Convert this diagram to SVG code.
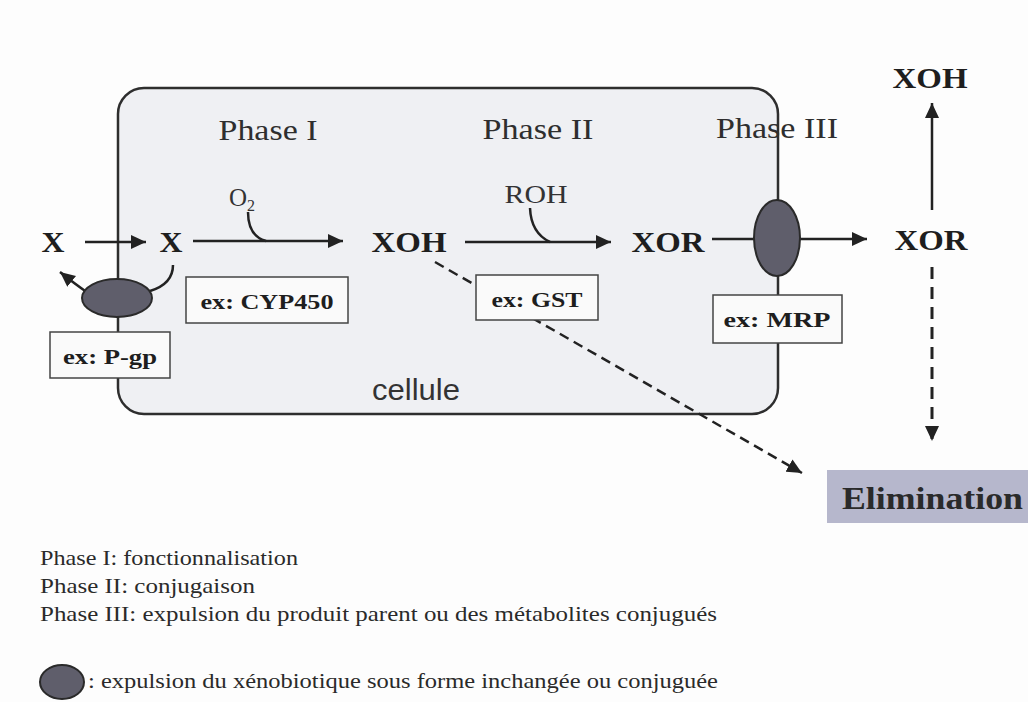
<svg xmlns="http://www.w3.org/2000/svg" width="1028" height="702" viewBox="0 0 1028 702">
  <style>
    .bg { fill: #fdfdfd; }
    .cell { fill: #eff0f3; stroke: #2e2e2e; stroke-width: 2.5; }
    .mol { font-family: "Liberation Serif", "Times New Roman", serif; font-weight: bold; font-size: 30px; fill: #1e1e1e; }
    .phase { font-family: "Liberation Serif", "Times New Roman", serif; font-size: 29px; fill: #2e2e2e; }
    .sub { font-family: "Liberation Serif", "Times New Roman", serif; font-size: 25px; fill: #333; }
    .lbl { font-family: "Liberation Serif", "Times New Roman", serif; font-weight: bold; font-size: 22px; fill: #1e1e1e; }
    .box { fill: #fafafa; stroke: #444; stroke-width: 1.5; }
    .pump { fill: #5f5e6b; stroke: #2a2a2a; stroke-width: 2; }
    .edge { fill: none; stroke: #222; stroke-width: 2.5; }
    .dash { fill: none; stroke: #222; stroke-width: 2.5; stroke-dasharray: 10 6; }
    .vdash { fill: none; stroke: #222; stroke-width: 3; stroke-dasharray: 12 8; }
    .legend { font-family: "Liberation Serif", "Times New Roman", serif; font-size: 22px; fill: #2a2a2a; }
    .sans { font-family: "Liberation Sans", Arial, sans-serif; font-size: 29px; fill: #333; }
    .elim { fill: #b6b7cc; }
    .elimtxt { font-family: "Liberation Serif", "Times New Roman", serif; font-weight: bold; font-size: 31px; fill: #2a2a2a; }
  </style>
  <defs>
    <marker id="arrow" markerUnits="userSpaceOnUse" markerWidth="16" markerHeight="14" refX="15" refY="7" orient="auto">
      <path d="M0,0 L15,7 L0,14 z" fill="#222"/>
    </marker>
  </defs>

  <rect class="bg" x="0" y="0" width="1028" height="702"/>

  <g id="cell">
    <rect class="cell" x="118" y="88" width="660" height="326" rx="26" ry="26"/>
    <text class="sans" x="416" y="400" text-anchor="middle" textLength="88" lengthAdjust="spacingAndGlyphs">cellule</text>
  </g>

  <g id="connectors">
    <line class="edge" x1="85" y1="242" x2="146" y2="242" marker-end="url(#arrow)"/>
    <line class="edge" x1="193" y1="241" x2="343" y2="241" marker-end="url(#arrow)"/>
    <path class="edge" d="M248 212 Q248 236 266 241"/>
    <line class="edge" x1="465" y1="242" x2="611" y2="242" marker-end="url(#arrow)"/>
    <path class="edge" d="M530 208 Q531 233 550 242"/>
    <line class="edge" x1="712" y1="239" x2="867" y2="239" marker-end="url(#arrow)"/>
    <path class="edge" d="M173 265 Q173 284 150 291"/>
    <path class="edge" d="M88 293 Q75 284 60 272" marker-end="url(#arrow)"/>
    <line class="edge" x1="932" y1="210" x2="932" y2="103" marker-end="url(#arrow)"/>
    <line class="vdash" x1="932" y1="267" x2="932" y2="441" marker-end="url(#arrow)"/>
    <line class="dash" x1="435" y1="262" x2="802" y2="473" marker-end="url(#arrow)"/>
  </g>

  <g id="pgp">
    <ellipse class="pump" cx="117" cy="298" rx="35" ry="19"/>
    <rect class="box" x="50" y="332" width="120" height="46"/>
    <text class="lbl" x="110" y="364" text-anchor="middle" textLength="94" lengthAdjust="spacingAndGlyphs">ex: P-gp</text>
  </g>

  <g id="cyp450">
    <rect class="box" x="186" y="277" width="162" height="46"/>
    <text class="lbl" x="267" y="309" text-anchor="middle" textLength="133" lengthAdjust="spacingAndGlyphs">ex: CYP450</text>
  </g>

  <g id="gst">
    <rect class="box" x="476" y="275" width="122" height="45"/>
    <text class="lbl" x="537" y="307" text-anchor="middle" textLength="91" lengthAdjust="spacingAndGlyphs">ex: GST</text>
  </g>

  <g id="mrp">
    <ellipse class="pump" cx="777" cy="238" rx="23" ry="38"/>
    <rect class="box" x="713" y="295" width="129" height="48"/>
    <text class="lbl" x="777" y="327" text-anchor="middle" textLength="107" lengthAdjust="spacingAndGlyphs">ex: MRP</text>
  </g>

  <g id="phases">
    <text class="phase" x="268" y="140" text-anchor="middle" textLength="99" lengthAdjust="spacingAndGlyphs">Phase I</text>
    <text class="phase" x="538" y="139" text-anchor="middle" textLength="111" lengthAdjust="spacingAndGlyphs">Phase II</text>
    <text class="phase" x="777" y="138" text-anchor="middle" textLength="122" lengthAdjust="spacingAndGlyphs">Phase III</text>
  </g>

  <g id="x-out"><text class="mol" x="53" y="252" text-anchor="middle" textLength="23" lengthAdjust="spacingAndGlyphs">X</text></g>
  <g id="x-in"><text class="mol" x="171" y="252" text-anchor="middle" textLength="23" lengthAdjust="spacingAndGlyphs">X</text></g>
  <g id="o2">
    <text class="sub" x="229" y="206">O<tspan font-size="16" dy="5">2</tspan></text>
  </g>
  <g id="xoh"><text class="mol" x="409" y="252" text-anchor="middle" textLength="75" lengthAdjust="spacingAndGlyphs">XOH</text></g>
  <g id="roh"><text class="sub" x="536" y="203" text-anchor="middle" textLength="63" lengthAdjust="spacingAndGlyphs">ROH</text></g>
  <g id="xor"><text class="mol" x="668" y="252" text-anchor="middle" textLength="73" lengthAdjust="spacingAndGlyphs">XOR</text></g>
  <g id="xor-out"><text class="mol" x="931" y="250" text-anchor="middle" textLength="73" lengthAdjust="spacingAndGlyphs">XOR</text></g>
  <g id="xoh-out"><text class="mol" x="930" y="88" text-anchor="middle" textLength="75" lengthAdjust="spacingAndGlyphs">XOH</text></g>

  <g id="elimination">
    <rect class="elim" x="827" y="470" width="201" height="53"/>
    <text class="elimtxt" x="842" y="509" textLength="181" lengthAdjust="spacingAndGlyphs">Elimination</text>
  </g>

  <g id="legend">
    <text class="legend" x="40" y="565" textLength="258" lengthAdjust="spacingAndGlyphs">Phase I: fonctionnalisation</text>
    <text class="legend" x="40" y="593" textLength="215" lengthAdjust="spacingAndGlyphs">Phase II: conjugaison</text>
    <text class="legend" x="40" y="621" textLength="677" lengthAdjust="spacingAndGlyphs">Phase III: expulsion du produit parent ou des métabolites conjugués</text>
    <ellipse class="pump" cx="62" cy="682" rx="22" ry="17"/>
    <text class="legend" x="88" y="688" textLength="630" lengthAdjust="spacingAndGlyphs">: expulsion du xénobiotique sous forme inchangée ou conjuguée</text>
  </g>
</svg>
